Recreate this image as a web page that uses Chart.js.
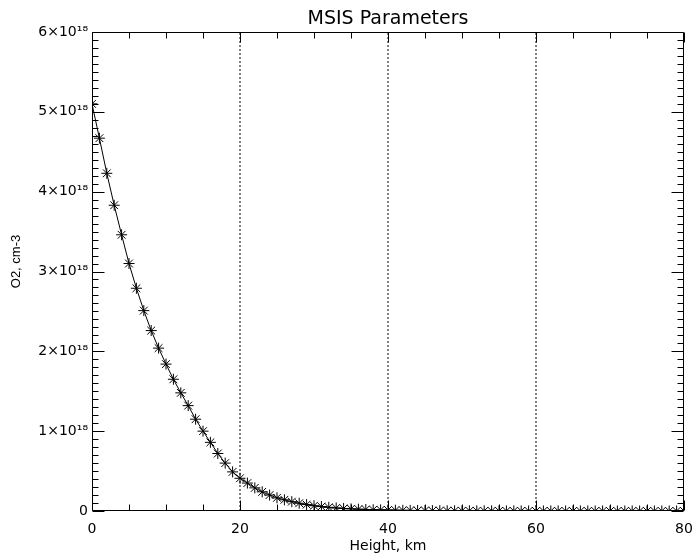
<!DOCTYPE html>
<html>
<head>
<meta charset="utf-8">
<script src="https://cdn.jsdelivr.net/npm/chart.js@4/dist/chart.umd.min.js"></script>
<style>
html,body{margin:0;padding:0;background:#fff;}
#wrap{width:696px;height:557px;}
</style>
</head>
<body>
<div id="wrap"><canvas id="c" width="696" height="557"></canvas></div>
<script>
// ---- data ----
const heights = [0,1,2,3,4,5,6,7,8,9,10,11,12,13,14,15,16,17,18,19,20,
  21,22,23,24,25,26,27,28,29,30,31,32,33,34,35,36,37,38,39,40,
  41,42,43,44,45,46,47,48,49,50,51,52,53,54,55,56,57,58,59,60,
  61,62,63,64,65,66,67,68,69,70,71,72,73,74,75,76,77,78,79,80];
const o2 = [5.10e18,4.67e18,4.23e18,3.83e18,3.46e18,3.10e18,2.79e18,2.51e18,2.26e18,2.04e18,
  1.84e18,1.65e18,1.48e18,1.32e18,1.15e18,1.00e18,0.86e18,0.72e18,0.60e18,0.49e18,
  0.41e18,0.35e18,0.29e18,0.24e18,0.20e18,0.165e18,0.14e18,0.117e18,0.097e18,0.080e18,
  0.066e18,0.055e18,0.046e18,0.038e18,0.032e18,0.027e18,0.023e18,0.019e18,0.016e18,0.014e18,
  0.012e18,0.010e18,0.0086e18,0.0074e18,0.0063e18,0.0054e18,0.0047e18,0.0040e18,0.0035e18,0.0030e18,
  0.0026e18,0.0022e18,0.0019e18,0.0017e18,0.0014e18,0.0012e18,0.0011e18,0.00092e18,0.00079e18,0.00068e18,
  0.00058e18,0.00050e18,0.00043e18,0.00037e18,0.00031e18,0.00027e18,0.00023e18,0.00019e18,0.00016e18,0.00014e18,
  0.00012e18,0.00010e18,0.000085e18,0.000072e18,0.000061e18,0.000052e18,0.000044e18,0.000037e18,0.000031e18,0.000026e18,
  0.000022e18];
const xTickValues = [0,20,40,60,80];
const xTickLabels = ['0','20','40','60','80'];
const yTickValues = [0,1e18,2e18,3e18,4e18,5e18,6e18];
const yTickLabels = ['0','1×10¹⁸','2×10¹⁸','3×10¹⁸','4×10¹⁸','5×10¹⁸','6×10¹⁸'];
const markerHeights = [20,40,60];
const xMinorStep = 5;
const yMinorStep = 1e17;
const chartTitle = 'MSIS Parameters';
const xTitle = 'Height, km';
const yTitle = 'O2, cm-3';

const TXT = '#000';
const tickFont = {family:'DejaVu Sans', size:14};

// inward box ticks (IDL style) drawn through the scales, plus the y-axis title
const boxTicks = {
  id:'boxTicks',
  afterDatasetsDraw(chart){
    const {ctx, chartArea, scales} = chart;
    const xs = scales.x, ys = scales.y;
    const L = Math.round(chartArea.left)+0.5, R = Math.round(chartArea.right)-0.5;
    const T = Math.round(chartArea.top)+0.5, B = Math.round(chartArea.bottom)-0.5;
    ctx.save();
    ctx.strokeStyle = '#000';
    ctx.lineWidth = 1;
    ctx.beginPath();
    ctx.moveTo(L,T); ctx.lineTo(R,T); ctx.lineTo(R,B); ctx.lineTo(L,B); ctx.closePath();
    for (let v = xs.min; v <= xs.max + 1e-9; v += xMinorStep) {
      const px = Math.round(xs.getPixelForValue(v)) + 0.5;
      const len = xTickValues.includes(v) ? 10 : 6;
      ctx.moveTo(px,B); ctx.lineTo(px,B-len);
      ctx.moveTo(px,T); ctx.lineTo(px,T+len);
    }
    const n = Math.round((ys.max - ys.min)/yMinorStep);
    for (let i = 0; i <= n; i++) {
      const v = ys.min + i*yMinorStep;
      const py = Math.round(ys.getPixelForValue(v)) + 0.5;
      const len = (i % 10 === 0) ? 12 : 6;
      ctx.moveTo(L,py); ctx.lineTo(L+len,py);
      ctx.moveTo(R,py); ctx.lineTo(R-len,py);
    }
    ctx.stroke();
    // y-axis title
    ctx.fillStyle = TXT;
    ctx.font = '13px "Liberation Sans"';
    ctx.textAlign = 'center';
    ctx.textBaseline = 'middle';
    ctx.translate(16, (chartArea.top + chartArea.bottom)/2 - 10);
    ctx.rotate(-Math.PI/2);
    ctx.fillText(yTitle, 0, 0);
    ctx.restore();
  }
};

const datasets = [{
  data: heights.map((h,i)=>({x:h, y:o2[i]})),
  showLine: true,
  borderColor: '#000',
  borderWidth: 1,
  pointStyle: 'star',
  pointRadius: 5.5,
  pointBorderColor: '#000',
  pointBackgroundColor: '#000',
  pointBorderWidth: 1,
  tension: 0,
  clip: 0
}].concat(markerHeights.map(h => ({
  data: [{x:h, y:yTickValues[0]}, {x:h, y:yTickValues[yTickValues.length-1]}],
  showLine: true,
  borderColor: '#000',
  borderWidth: 1,
  borderDash: [2,2],
  pointRadius: 0,
  clip: 0
})));

new Chart(document.getElementById('c'), {
  type: 'scatter',
  data: {datasets},
  plugins: [boxTicks],
  options: {
    responsive: false,
    animation: false,
    devicePixelRatio: 1,
    layout: {padding: {left:0, right:12, top:0, bottom:0}},
    plugins: {
      legend: {display:false},
      tooltip: {enabled:false},
      title: {
        display: true,
        text: chartTitle,
        fullSize: false,
        color: TXT,
        font: {family:'DejaVu Sans', size:19, weight:'normal'},
        padding: {top:8, bottom:1.2}
      }
    },
    scales: {
      x: {
        type: 'linear',
        min: 0, max: 80,
        afterFit(s){ s.height = 46; s.paddingLeft = 0; s.paddingRight = 0; },
        border: {display:false},
        grid: {display:false, drawTicks:false},
        ticks: {
          stepSize: 20, autoSkip: false, maxRotation: 0, padding: 10,
          color: TXT, font: tickFont,
          callback: v => { const i = xTickValues.indexOf(v); return i < 0 ? '' : xTickLabels[i]; }
        },
        title: {display:true, text:xTitle, color:TXT,
          font:{family:'DejaVu Sans', size:14}, padding:{top:0, bottom:2}}
      },
      y: {
        type: 'linear',
        min: 0, max: 6e18,
        afterFit(s){ s.width = 92; s.paddingTop = 0; s.paddingBottom = 0; },
        border: {display:false},
        grid: {display:false, drawTicks:false},
        ticks: {
          stepSize: 1e18, autoSkip: false, padding: 4,
          color: TXT, font: tickFont,
          callback: v => { const i = yTickValues.indexOf(v); return i < 0 ? '' : yTickLabels[i]; }
        },
        title: {display:false}
      }
    }
  }
});
</script>
</body>
</html>
